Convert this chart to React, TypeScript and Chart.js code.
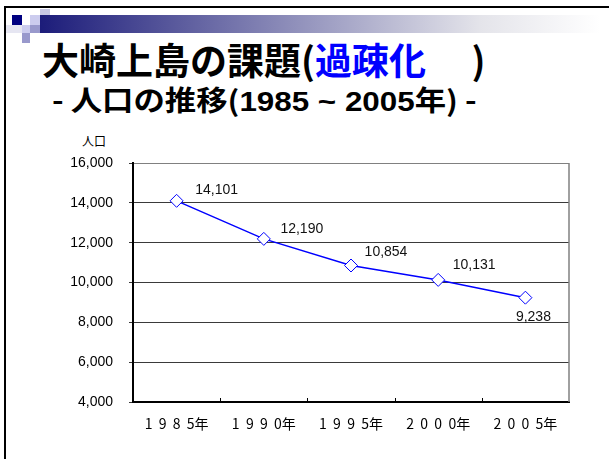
import React, { useEffect, useRef } from "react";
import { Chart, registerables } from "chart.js";

Chart.register(...registerables);

const categories = ["1  9  8  5年", "1  9  9  0年", "1  9  9  5年", "2  0  0  0年", "2  0  0  5年"];
const population = [14101, 12190, 10854, 10131, 9238];
const yMin = 4000;
const yMax = 16000;
const yStep = 2000;

// label placement (pixels relative to the point), layout only
const labelOffsets = [
  [40, -11],
  [38, -10],
  [35, -13],
  [36, -15],
  [8, 19],
];

const fmt = (v: number) => v.toLocaleString("en-US");

const decorPlugin = {
  id: "decor",
  afterDatasetsDraw(chart: any) {
    const { ctx, chartArea } = chart;
    const xs = chart.scales.x;
    ctx.save();
    ctx.strokeStyle = "#808080";
    ctx.lineWidth = 1.5;
    ctx.beginPath();
    ctx.moveTo(chartArea.right, chartArea.top);
    ctx.lineTo(chartArea.right, chartArea.bottom);
    ctx.stroke();
    ctx.strokeStyle = "#000";
    ctx.lineWidth = 1;
    const n = xs.ticks.length;
    for (let i = 1; i < n; i++) {
      const x = Math.round((xs.getPixelForTick(i - 1) + xs.getPixelForTick(i)) / 2) + 0.5;
      ctx.beginPath();
      ctx.moveTo(x, chartArea.bottom);
      ctx.lineTo(x, chartArea.bottom - 4);
      ctx.stroke();
    }
    const meta = chart.getDatasetMeta(0);
    ctx.fillStyle = "#111";
    ctx.font = "14px 'Liberation Sans', Arial, sans-serif";
    ctx.textAlign = "center";
    ctx.textBaseline = "middle";
    meta.data.forEach((pt: any, i: number) => {
      const [dx, dy] = labelOffsets[i];
      ctx.fillText(fmt(population[i]), pt.x + dx, pt.y + dy);
    });
    ctx.restore();
  },
};

function PopulationChart() {
  const ref = useRef<HTMLCanvasElement | null>(null);
  useEffect(() => {
    if (!ref.current) return;
    const chart = new Chart(ref.current, {
      type: "line",
      data: {
        labels: categories,
        datasets: [
          {
            data: population,
            borderColor: "#0000ff",
            borderWidth: 1.5,
            pointStyle: "rectRot",
            pointRadius: 6.5,
            pointBackgroundColor: "#ffffff",
            pointBorderColor: "#0000ff",
            pointBorderWidth: 1,
            tension: 0,
          },
        ],
      },
      options: {
        animation: false,
        responsive: false,
        maintainAspectRatio: false,
        events: [],
        layout: { padding: { top: 33, right: 31, bottom: 0, left: 0 } },
        plugins: { legend: { display: false }, tooltip: { enabled: false } },
        scales: {
          x: {
            offset: true,
            grid: { display: false, drawTicks: false },
            border: { display: true, color: "#000", width: 2 },
            ticks: {
              color: "#000",
              padding: 13,
              maxRotation: 0,
              font: { family: "'Noto Sans CJK JP', sans-serif", size: 14 },
            },
            afterFit: (s: any) => {
              s.height = 48;
            },
          },
          y: {
            min: yMin,
            max: yMax,
            ticks: {
              stepSize: yStep,
              color: "#000",
              padding: 16,
              font: { family: "'Liberation Sans', Arial, sans-serif", size: 14 },
              callback: (v: any) => fmt(Number(v)),
            },
            grid: {
              color: (c: any) => (c.tick && c.tick.value === yMax ? "#808080" : "#3a3a3a"),
              lineWidth: 1,
              tickLength: 4,
              tickColor: "#3a3a3a",
            },
            border: { display: true, color: "#000", width: 2 },
            afterFit: (s: any) => {
              s.width = 73;
            },
          },
        },
      },
      plugins: [decorPlugin],
    });
    return () => chart.destroy();
  }, []);
  return (
    <canvas
      ref={ref}
      width={540}
      height={320}
      style={{ position: "absolute", left: 60, top: 130, width: 540, height: 320 }}
    />
  );
}

const sq = (left: number, top: number, w: number, h: number, bg: string) => (
  <div style={{ position: "absolute", left, top, width: w, height: h, background: bg }} />
);

export default function App() {
  return (
    <div
      style={{
        position: "fixed",
        left: 0,
        top: 0,
        width: 609,
        height: 459,
        overflow: "hidden",
        background: "#fff",
        fontFamily: "'Noto Sans CJK JP', sans-serif",
      }}
    >
      <div
        style={{
          position: "absolute",
          left: 4,
          top: 6,
          width: 700,
          height: 600,
          borderTop: "2px solid #000",
          borderLeft: "2px solid #000",
        }}
      />
      <div
        style={{
          position: "absolute",
          left: 40,
          top: 15,
          width: 569,
          height: 18,
          background: "linear-gradient(to right, #1c1c7a 0px, #e4e4ea 440px, #ffffff 560px)",
        }}
      />
      {sq(40, 9, 10, 6, "#c8c8e4")}
      {sq(12, 15, 10, 10, "#000080")}
      {sq(30, 15, 10, 10, "#ccccee")}
      {sq(6, 25, 16, 8, "#e6e6f2")}
      {sq(22, 25, 8, 8, "#ccccee")}
      {sq(30, 25, 10, 8, "#9999cc")}
      {sq(22, 33, 8, 10, "#9999cc")}
      <div
        style={{
          position: "absolute",
          left: 42,
          top: 41,
          fontSize: 37,
          lineHeight: "37px",
          fontWeight: 700,
          color: "#000",
          whiteSpace: "pre",
        }}
      >
        大崎上島の課題(<span style={{ color: "#0000ff" }}>過疎化</span>{"　 )"}
      </div>
      <div
        style={{
          position: "absolute",
          left: 52,
          top: 85,
          fontSize: 28,
          lineHeight: "28px",
          fontWeight: 700,
          color: "#000",
          whiteSpace: "pre",
          transform: "scaleX(1.12)",
          transformOrigin: "left center",
        }}
      >
        - 人口の推移(<span style={{ fontFamily: "'Liberation Sans', Arial, sans-serif" }}>1985 ~ 2005</span>年) -
      </div>
      <div
        style={{
          position: "absolute",
          left: 82,
          top: 133,
          fontSize: 12,
          lineHeight: "16px",
          color: "#000",
        }}
      >
        人口
      </div>
      <PopulationChart />
    </div>
  );
}
